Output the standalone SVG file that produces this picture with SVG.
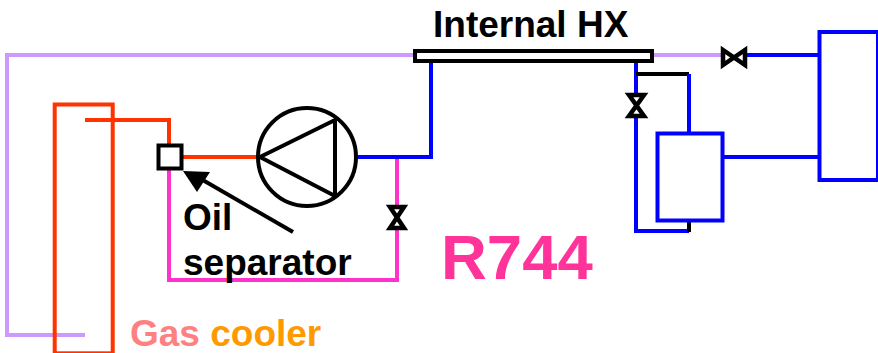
<svg xmlns="http://www.w3.org/2000/svg" width="878" height="353" viewBox="0 0 878 353">
<style>
.l{fill:none;stroke-width:4;stroke-linejoin:miter;stroke-linecap:butt}
.p{stroke:#cc99ff}.r{stroke:#ff3300}.b{stroke:#0000ff}.m{stroke:#ff33cc}.k{stroke:#000}
.v{fill:#fff;stroke:#000;stroke-width:4.5}
text{font-family:"Liberation Sans",Arial,sans-serif;font-weight:bold}
</style>
<rect width="878" height="353" fill="#fff"/>
<g id="connectors">
<path class="l p" d="M415 55H7V335H85"/>
<path class="l p" d="M652 55H722"/>
<path class="l r" d="M85 120H169V146"/>
<path class="l r" d="M181 157H259"/>
<path class="l m" d="M169 169V280H397V158"/>
<path class="l b" d="M356 157H431V62"/>
<path class="l b" d="M747 55H820"/>
<path class="l b" d="M636 62V231H689"/>
<path class="l k" d="M636 74H689"/>
<path class="l b" d="M689 74V133"/>
<path class="l k" d="M689 220V232"/>
<path class="l b" d="M723 157H820"/>
<g id="oil-arrow">
<path d="M293 232L201 179" fill="none" stroke="#000" stroke-width="4"/>
<path d="M183 171L210 172L197 192Z" fill="#000"/>
</g>
</g>
<g id="gas-cooler"><rect x="54.700" y="104.500" width="58" height="248.800" fill="none" stroke="#ff3300" stroke-width="4"/></g>
<g id="oil-separator"><rect x="158.500" y="145.500" width="23" height="23" fill="#fff" stroke="#000" stroke-width="4"/></g>
<g id="compressor">
<circle cx="307" cy="157" r="49" fill="none" stroke="#000" stroke-width="4"/>
<path d="M260 157L335 120V196Z" fill="none" stroke="#000" stroke-width="4" stroke-linejoin="round"/>
</g>
<g id="internal-hx">
<rect x="415" y="51" width="237" height="10" fill="#fff" stroke="#000" stroke-width="4"/>
<text x="433" y="37" font-size="37">Internal HX</text>
</g>
<g id="valve-1"><path class="v" d="M390 207H404L390 228H404Z"/></g>
<g id="valve-2"><path class="v" d="M629 95H644L629 116H644Z"/></g>
<g id="valve-3"><path class="v" d="M723 50V65L745 50V65Z"/></g>
<g id="receiver"><rect x="657.500" y="133.500" width="65" height="87" fill="#fff" stroke="#0000ff" stroke-width="4"/></g>
<g id="evaporator"><rect x="819.500" y="32" width="58.500" height="148" fill="#fff" stroke="#0000ff" stroke-width="4"/></g>
<g id="labels">
<text x="183" y="230" font-size="37">Oil</text>
<text x="183" y="275" font-size="37">separator</text>
<text x="441" y="279" font-size="63.500" fill="#ff3399">R744</text>
<text x="130" y="346" font-size="37"><tspan fill="#ff8080">Gas </tspan><tspan fill="#ff9900">cooler</tspan></text>
</g>
</svg>
